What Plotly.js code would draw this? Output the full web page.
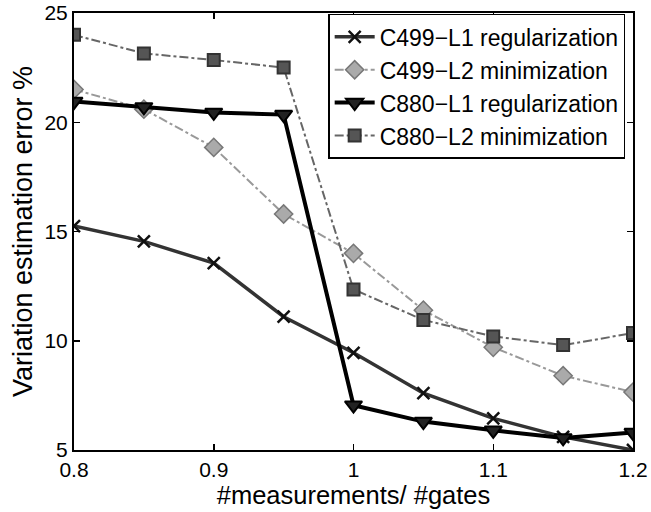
<!DOCTYPE html>
<html><head><meta charset="utf-8">
<script src="https://cdn.plot.ly/plotly-3.0.1.min.js"></script>
<style>html,body{margin:0;padding:0;background:#fff}#chart{width:651px;height:512px}</style>
</head><body><div id="chart"></div>
<script>
const xVals = [0.8, 0.85, 0.9, 0.95, 1.0, 1.05, 1.1, 1.15, 1.2];
const c499L1 = [15.25, 14.55, 13.55, 11.1, 9.45, 7.6, 6.45, 5.6, 5.0];
const c499L2 = [21.5, 20.6, 18.85, 15.8, 14.0, 11.4, 9.7, 8.4, 7.65];
const c880L1 = [20.95, 20.7, 20.45, 20.35, 7.05, 6.3, 5.9, 5.55, 5.8];
const c880L2 = [24.0, 23.15, 22.85, 22.5, 12.35, 10.95, 10.2, 9.8, 10.35];
const names = ["C499\u2212L1 regularization", "C499\u2212L2 minimization", "C880\u2212L1 regularization", "C880\u2212L2 minimization"];
const xTicks = [0.8, 0.9, 1, 1.1, 1.2];
const xTickText = ["0.8", "0.9", "1", "1.1", "1.2"];
const yTicks = [5, 10, 15, 20, 25];

const traces = [
  {x: xVals, y: c499L1, name: names[0], mode: "lines+markers",
   line: {color: "#333", width: 3.5},
   marker: {symbol: "x-thin-open", size: 12, line: {color: "#111", width: 2.5}, color: "#111"}},
  {x: xVals, y: c499L2, name: names[1], mode: "lines+markers",
   line: {color: "#999", width: 2, dash: "dashdot"},
   marker: {symbol: "diamond", size: 14, color: "#aaa", line: {color: "#777", width: 1.5}}},
  {x: xVals, y: c880L1, name: names[2], mode: "lines+markers",
   line: {color: "#000", width: 4},
   marker: {symbol: "triangle-down", size: 15, color: "#222", line: {color: "#000", width: 2}}},
  {x: xVals, y: c880L2, name: names[3], mode: "lines+markers",
   line: {color: "#666", width: 2, dash: "dashdot"},
   marker: {symbol: "square", size: 12, color: "#555", line: {color: "#333", width: 2}}}
];

const layout = {
  width: 651, height: 512,
  margin: {l: 74, r: 18, t: 13, b: 62},
  paper_bgcolor: "#fff", plot_bgcolor: "#fff",
  font: {family: "Liberation Sans, Arial, sans-serif", size: 21, color: "#000"},
  showlegend: true,
  legend: {x: 0.986, y: 0.998, xanchor: "right", yanchor: "top",
    bordercolor: "#000", borderwidth: 1.5, bgcolor: "#fff",
    font: {size: 23}, tracegroupgap: 0, itemwidth: 40},
  xaxis: {range: [0.8, 1.2], tickvals: xTicks, ticktext: xTickText,
    ticks: "inside", ticklen: 6, tickwidth: 1.5, tickcolor: "#000",
    showline: true, linecolor: "#000", linewidth: 2, mirror: "ticks",
    showgrid: false, zeroline: false,
    title: {text: "#measurements/ #gates", font: {size: 25.5}, standoff: 3}},
  yaxis: {range: [5, 25], tickvals: yTicks,
    ticks: "inside", ticklen: 6, tickwidth: 1.5, tickcolor: "#000",
    showline: true, linecolor: "#000", linewidth: 2, mirror: "ticks",
    showgrid: false, zeroline: false,
    title: {text: "Variation estimation error %", font: {size: 27}, standoff: 4}}
};
Plotly.newPlot("chart", traces, layout, {displayModeBar: false, staticPlot: true});
</script></body></html>
